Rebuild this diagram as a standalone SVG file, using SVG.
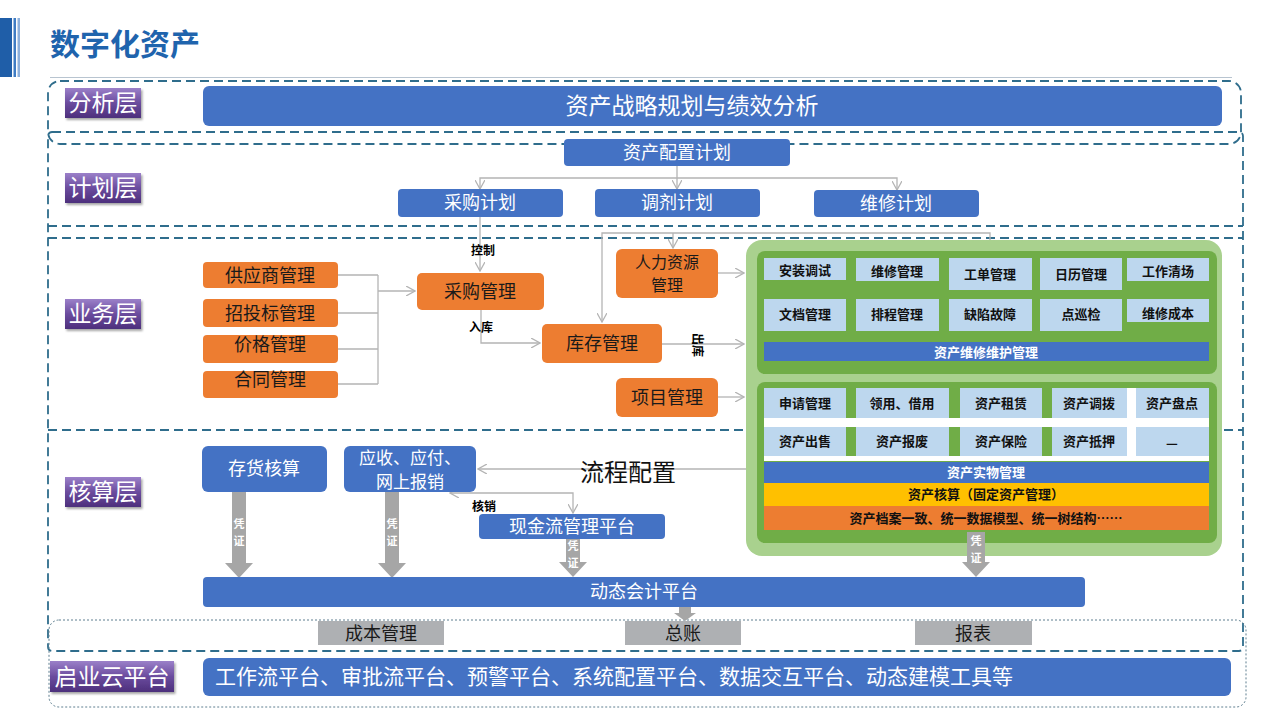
<svg xmlns="http://www.w3.org/2000/svg" width="1280" height="720" viewBox="0 0 1280 720">
<defs>
<style>
text{font-family:"Noto Sans CJK SC","Liberation Sans",sans-serif}
.dash{fill:none;stroke:#2f6d8c;stroke-width:1.8;stroke-dasharray:9 5}
.dot{fill:none;stroke:#5f7f90;stroke-width:1;stroke-dasharray:2 2}
.lbl{fill:url(#pg);filter:url(#sh)}
.lt{fill:#fff;font-size:23px;text-anchor:middle}
.blue{fill:#4472c4}
.org{fill:#ed7d31}
.wt{fill:#fff;text-anchor:middle}
.bt{fill:#1a1a1a;text-anchor:middle}
.cell{fill:#bdd7ee}
.ct{fill:#111;font-size:13px;font-weight:bold;text-anchor:middle}
.con{fill:none;stroke:#b4b4b4;stroke-width:1.3}
.ga{fill:#a6a6a6}
.vt{fill:#fff;font-size:11px;font-weight:bold;text-anchor:middle}
.sm{fill:#000;font-size:12px;font-weight:bold;text-anchor:middle}
.gray{fill:#aeb0b3}
</style>
<linearGradient id="pg" x1="0" y1="0" x2="0" y2="1">
<stop offset="0" stop-color="#9b80c9"/>
<stop offset="0.5" stop-color="#6b4c9e"/>
<stop offset="1" stop-color="#4d2f7c"/>
</linearGradient>
<filter id="sh" x="-10%" y="-10%" width="130%" height="140%">
<feDropShadow dx="1.5" dy="2" stdDeviation="1.2" flood-color="#000" flood-opacity="0.35"/>
</filter>
<marker id="ah" viewBox="0 0 10 10" refX="9" refY="5" markerWidth="10" markerHeight="10" markerUnits="userSpaceOnUse" orient="auto-start-reverse">
<path d="M0,0 L9,5 L0,10" fill="none" stroke="#b4b4b4" stroke-width="1.3"/>
</marker>
</defs>
<rect width="1280" height="720" fill="#fff"/>

<g id="header">
<rect x="0" y="18" width="12" height="59" fill="#1f5ea8"/>
<rect x="13.5" y="18" width="2.5" height="59" fill="#3f7cc4"/>
<rect x="17.5" y="18" width="2.5" height="59" fill="#8db0dc"/>
<text x="50" y="55" font-size="30" font-weight="bold" fill="#1f64ad">数字化资产</text>
<line x1="50" y1="77.5" x2="1232" y2="77.5" stroke="#b8c4d0" stroke-width="1.2"/>
</g>

<g id="frames">
<rect class="dash" x="48" y="81" width="1193" height="63" rx="12"/>
<rect class="dash" x="48" y="132" width="1195" height="519" rx="4"/>
<line class="dash" x1="48" y1="226" x2="1243" y2="226"/>
<line class="dash" x1="48" y1="238" x2="1243" y2="238"/>
<line class="dash" x1="48" y1="430" x2="1243" y2="430"/>
<rect class="dot" x="49" y="620" width="1197" height="87" rx="10"/>
</g>

<g id="layer-labels">
<g id="lbl-analysis"><rect class="lbl" x="65" y="88" width="76" height="30"/><text class="lt" x="103" y="111">分析层</text></g>
<g id="lbl-plan"><rect class="lbl" x="65" y="173" width="76" height="30"/><text class="lt" x="103" y="196">计划层</text></g>
<g id="lbl-biz"><rect class="lbl" x="65" y="299" width="76" height="30"/><text class="lt" x="103" y="322">业务层</text></g>
<g id="lbl-acct"><rect class="lbl" x="65" y="477" width="76" height="30"/><text class="lt" x="103" y="500">核算层</text></g>
<g id="lbl-cloud"><rect class="lbl" x="50" y="661" width="124" height="31"/><text class="lt" x="112" y="685">启业云平台</text></g>
</g>

<g id="connectors">
<path class="con" d="M677,166 V189" marker-end="url(#ah)"/>
<path class="con" d="M480,189 V178 H897 V190" marker-start="url(#ah)" marker-end="url(#ah)"/>
<path class="con" d="M480,217 V271" marker-end="url(#ah)"/>
<path class="con" d="M338,275 H378 M338,313 H378 M338,349 H378 M338,384 H378 M378,275 V384"/>
<path class="con" d="M378,291 H415" marker-end="url(#ah)"/>
<path class="con" d="M481,310 V343 H540" marker-end="url(#ah)"/>
<path class="con" d="M990,258 V233 H602 V322" marker-end="url(#ah)"/>
<path class="con" d="M673,233 V248" marker-end="url(#ah)"/>
<path class="con" d="M718,273 H744" marker-end="url(#ah)"/>
<path class="con" d="M662,344 H744" marker-end="url(#ah)"/>
<path class="con" d="M718,397 H744" marker-end="url(#ah)"/>
<path class="con" d="M746,469 H478" marker-end="url(#ah)"/>
<path class="con" d="M450,493 H573 V513" marker-start="url(#ah)" marker-end="url(#ah)"/>
<text class="sm" x="483" y="255">控制</text>
<text class="sm" x="481" y="332">入库</text>
<text class="sm" x="484" y="511">核销</text>
<text class="sm" font-size="11" x="697" y="349" transform="rotate(90 697 345)">出库</text>
</g>

<g id="analysis-bar"><rect class="blue" x="203" y="86" width="1019" height="40" rx="6"/><text class="wt" x="692" y="114" font-size="23">资产战略规划与绩效分析</text></g>

<g id="plan-config"><rect class="blue" x="564" y="139" width="226" height="27" rx="4"/><text class="wt" x="677" y="159" font-size="18">资产配置计划</text></g>
<g id="plan-purchase"><rect class="blue" x="398" y="189" width="165" height="28" rx="4"/><text class="wt" x="480" y="209" font-size="18">采购计划</text></g>
<g id="plan-transfer"><rect class="blue" x="595" y="189" width="165" height="28" rx="4"/><text class="wt" x="677" y="209" font-size="18">调剂计划</text></g>
<g id="plan-repair"><rect class="blue" x="814" y="190" width="165" height="27" rx="4"/><text class="wt" x="896" y="210" font-size="18">维修计划</text></g>

<g id="supplier"><rect class="org" x="203" y="262" width="135" height="26" rx="4"/><text class="bt" x="270" y="282" font-size="18">供应商管理</text></g>
<g id="tender"><rect class="org" x="203" y="299" width="135" height="28" rx="4"/><text class="bt" x="270" y="320" font-size="18">招投标管理</text></g>
<g id="price"><rect class="org" x="203" y="335" width="135" height="28" rx="4"/><text class="bt" x="270" y="351" font-size="18">价格管理</text></g>
<g id="contract"><rect class="org" x="203" y="371" width="135" height="27" rx="4"/><text class="bt" x="270" y="386" font-size="18">合同管理</text></g>
<g id="purchase-mgmt"><rect class="org" x="417" y="273" width="127" height="37" rx="5"/><text class="bt" x="480" y="298" font-size="18">采购管理</text></g>
<g id="stock-mgmt"><rect class="org" x="542" y="324" width="120" height="39" rx="5"/><text class="bt" x="602" y="350" font-size="18">库存管理</text></g>
<g id="hr-mgmt"><rect class="org" x="616" y="249" width="102" height="49" rx="6"/><text class="bt" x="667" y="268" font-size="16">人力资源</text><text class="bt" x="667" y="291" font-size="16">管理</text></g>
<g id="project-mgmt"><rect class="org" x="616" y="378" width="102" height="39" rx="6"/><text class="bt" x="667" y="404" font-size="18">项目管理</text></g>

<g id="asset-platform">
<rect x="746" y="240" width="476" height="316" rx="16" fill="#a9d18e"/>
<rect x="757" y="251" width="460" height="123" rx="8" fill="#70ad47"/>
<rect x="757" y="382" width="460" height="161" rx="8" fill="#70ad47"/>
<g id="maint">
<rect class="cell" x="764" y="258" width="82" height="22"/><text class="ct" x="805" y="275">安装调试</text>
<rect class="cell" x="856" y="258" width="83" height="23"/><text class="ct" x="897" y="276">维修管理</text>
<rect class="cell" x="949" y="258" width="83" height="32"/><text class="ct" x="990" y="279">工单管理</text>
<rect class="cell" x="1040" y="258" width="82" height="32"/><text class="ct" x="1081" y="279">日历管理</text>
<rect class="cell" x="1127" y="258" width="82" height="23"/><text class="ct" x="1168" y="276">工作清场</text>
<rect class="cell" x="764" y="299" width="82" height="32"/><text class="ct" x="805" y="319">文档管理</text>
<rect class="cell" x="856" y="299" width="83" height="32"/><text class="ct" x="897" y="319">排程管理</text>
<rect class="cell" x="949" y="299" width="83" height="32"/><text class="ct" x="990" y="319">缺陷故障</text>
<rect class="cell" x="1040" y="299" width="82" height="32"/><text class="ct" x="1081" y="319">点巡检</text>
<rect class="cell" x="1127" y="299" width="82" height="23"/><text class="ct" x="1168" y="318">维修成本</text>
<rect class="blue" x="764" y="342" width="445" height="19"/><text class="wt" x="986" y="357" font-size="13" font-weight="bold">资产维修维护管理</text>
</g>
<g id="physical">
<rect x="764" y="388" width="445" height="73" fill="#fff"/>
<rect x="846" y="388" width="10" height="30" fill="#70ad47"/><rect x="949" y="388" width="11" height="30" fill="#70ad47"/><rect x="1042" y="388" width="10" height="30" fill="#70ad47"/>
<rect x="846" y="427" width="10" height="29" fill="#70ad47"/><rect x="949" y="427" width="11" height="29" fill="#70ad47"/><rect x="1042" y="427" width="10" height="29" fill="#70ad47"/>
<rect class="cell" x="764" y="388" width="82" height="30"/><text class="ct" x="805" y="408">申请管理</text>
<rect class="cell" x="856" y="388" width="93" height="30"/><text class="ct" x="902" y="408">领用、借用</text>
<rect class="cell" x="960" y="388" width="82" height="30"/><text class="ct" x="1001" y="408">资产租赁</text>
<rect class="cell" x="1052" y="388" width="75" height="30"/><text class="ct" x="1089" y="408">资产调拨</text>
<rect class="cell" x="1136" y="388" width="73" height="30"/><text class="ct" x="1172" y="408">资产盘点</text>
<rect class="cell" x="764" y="427" width="82" height="29"/><text class="ct" x="805" y="446">资产出售</text>
<rect class="cell" x="856" y="427" width="93" height="29"/><text class="ct" x="902" y="446">资产报废</text>
<rect class="cell" x="960" y="427" width="82" height="29"/><text class="ct" x="1001" y="446">资产保险</text>
<rect class="cell" x="1052" y="427" width="75" height="29"/><text class="ct" x="1089" y="446">资产抵押</text>
<rect class="cell" x="1136" y="427" width="73" height="29"/><text class="ct" x="1172" y="448">—</text>
<rect class="blue" x="764" y="462" width="445" height="21"/><text class="wt" x="986" y="477" font-size="13" font-weight="bold">资产实物管理</text>
<rect x="764" y="483" width="445" height="23" fill="#ffc000"/><text class="ct" x="986" y="499">资产核算（固定资产管理）</text>
<rect x="764" y="506" width="445" height="24" fill="#ed7d31"/><text class="ct" x="986" y="523">资产档案一致、统一数据模型、统一树结构……</text>
</g>
</g>

<g id="acct">
<g id="inventory"><rect class="blue" x="202" y="446" width="125" height="46" rx="6"/><text class="wt" x="264" y="475" font-size="18">存货核算</text></g>
<g id="arap"><rect class="blue" x="344" y="446" width="132" height="46" rx="6"/><text class="wt" x="410" y="464" font-size="17">应收、应付、</text><text class="wt" x="410" y="488" font-size="17">网上报销</text></g>
<g id="cashflow"><rect class="blue" x="479" y="514" width="186" height="25" rx="4"/><text class="wt" x="572" y="533" font-size="18">现金流管理平台</text></g>
<g id="flowcfg"><text x="628" y="481" font-size="24" fill="#111" text-anchor="middle">流程配置</text></g>
<g id="voucher-arrows">
<polygon class="ga" points="232,492 246,492 246,563 253,563 239,578 225,563 232,563"/>
<text class="vt" x="239" y="528">凭</text><text class="vt" x="239" y="545">证</text>
<polygon class="ga" points="385,492 399,492 399,563 406,563 392,578 378,563 385,563"/>
<text class="vt" x="392" y="528">凭</text><text class="vt" x="392" y="545">证</text>
<polygon class="ga" points="566,539 580,539 580,562 587,562 573,577 559,562 566,562"/>
<text class="vt" x="573" y="550">凭</text><text class="vt" x="573" y="567">证</text>
<polygon class="ga" points="967,532 985,532 985,562 990,562 976,577 962,562 967,562"/>
<text class="vt" x="976" y="545">凭</text><text class="vt" x="976" y="562">证</text>
<polygon class="ga" points="679,607 691,607 691,613 696,613 685,621 674,613 679,613"/>
</g>
<g id="dyn-acct"><rect class="blue" x="203" y="577" width="882" height="30" rx="4"/><text class="wt" x="644" y="598" font-size="18">动态会计平台</text></g>
</g>

<g id="cost"><rect class="gray" x="318" y="621" width="126" height="24"/><text class="bt" x="381" y="640" font-size="18">成本管理</text></g>
<g id="ledger"><rect class="gray" x="625" y="621" width="116" height="24"/><text class="bt" x="683" y="640" font-size="18">总账</text></g>
<g id="report"><rect class="gray" x="915" y="621" width="117" height="24"/><text class="bt" x="973" y="640" font-size="18">报表</text></g>

<g id="cloud-bar"><rect class="blue" x="203" y="658" width="1028" height="38" rx="6"/><text x="215" y="684" font-size="21" fill="#fff">工作流平台、审批流平台、预警平台、系统配置平台、数据交互平台、动态建模工具等</text></g>
</svg>
